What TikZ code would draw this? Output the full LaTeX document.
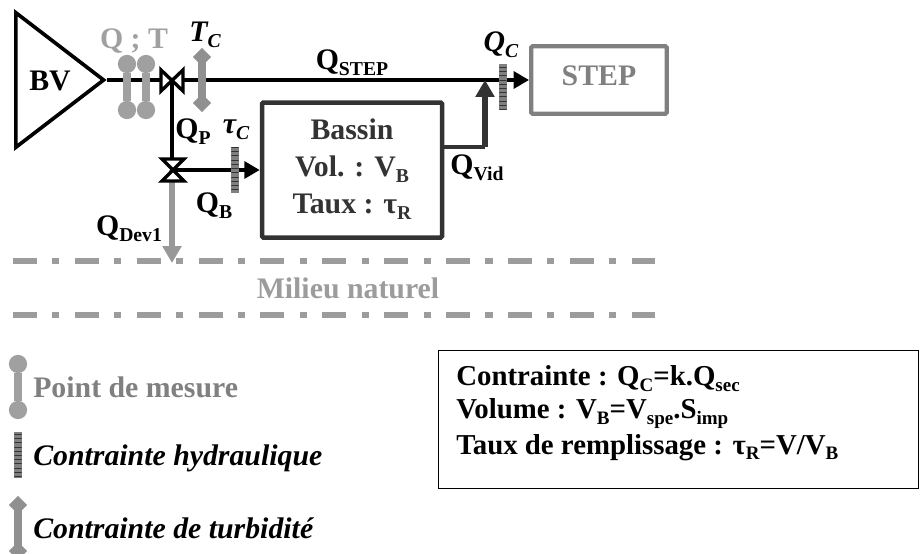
\documentclass[tikz,border=0pt]{standalone}
\usepackage{fontspec}
\setmainfont{Liberation Serif}
\usetikzlibrary{arrows.meta,patterns,shapes.geometric}
\newcommand{\sbs}[1]{\raisebox{-.2em}{\scalebox{.66}{#1}}}
\definecolor{bassincol}{HTML}{333333}
\definecolor{stepcol}{HTML}{808080}
\definecolor{mesurecol}{HTML}{A0A0A0}
\definecolor{milieucol}{HTML}{9C9C9C}
\tikzset{
  lbl/.style={font=\fontsize{21.2}{21.2}\selectfont\bfseries,inner sep=0pt},
  lblit/.style={lbl,font=\fontsize{21.2}{21.2}\selectfont\bfseries\itshape},
  mainline/.style={line width=2.7pt,black},
  valve/.style={line width=2.4pt,fill=white,line join=miter},
  mesure/.style={line width=5pt,mesurecol},
  mesuredot/.style={fill=mesurecol,circle,inner sep=0pt,minimum size=13pt},
  turbi/.style={line width=5pt,mesurecol!90!black},
  turbidot/.style={fill=mesurecol!90!black,diamond,inner sep=0pt,minimum size=13pt},
  hydro/.style={preaction={fill=black!50},pattern=horizontal lines,pattern color=black!80,minimum width=5pt,minimum height=32.6pt,inner sep=0pt},
  milieu/.style={line width=4.2pt,milieucol,dash pattern=on 17pt off 11pt on 5pt off 11pt},
}
\begin{document}
\begin{tikzpicture}[x=0.025cm,y=-0.025cm]
  \useasboundingbox (0,0) rectangle (920,553);
  % bassin versant et ouvrages
  \node[draw,isosceles triangle,isosceles triangle apex angle=75,isosceles triangle stretches,
    minimum width=95.7pt,minimum height=62.4pt,inner sep=0pt,line width=2.6pt,anchor=lower side] (bv) at (14,80) {};
  \node[lbl] (bvt) at (50,81) {BV};
  \node[draw=stepcol,line width=3pt,rounded corners=1pt,inner sep=0pt,minimum width=96.5pt,minimum height=48pt] (step) at (599,80) {};
  \node[lbl,text=stepcol] (stept) at (599,76) {STEP};
  \node[draw=bassincol,line width=3.2pt,rounded corners=1pt,inner sep=0pt,minimum width=128pt,minimum height=96pt] (bassin) at (352,170) {};
  \node[lbl,text=bassincol,align=center] (bassint) at (352,169) {Bassin\\[5pt]Vol. : V\sbs{B}\\[5pt]Taux : τ\sbs{R}};
  \coordinate (v1) at (172,80);
  \coordinate (v2) at (172,170);
  \coordinate (j1) at (485,80);
  \coordinate (j0) at (485,147);
  \coordinate (b0) at (bassin.east |- j0);
  \coordinate (d1) at (172,263);
  % mesures et contraintes
  \draw[mainline] (bv.apex) -- (v1);
  \draw[mainline,-{Triangle[length=11pt,width=12pt]}] (v1) -- (step.west);
  \node[mesuredot] (m1a) at (127,64) {};
  \node[mesuredot] (m1b) at (127,110) {};
  \node[mesuredot] (m2a) at (146,64) {};
  \node[mesuredot] (m2b) at (146,110) {};
  \draw[mesure] (m1a) -- (m1b);
  \draw[mesure] (m2a) -- (m2b);
  \node[turbidot] (t1a) at (202,57) {};
  \node[turbidot] (t1b) at (202,103) {};
  \draw[turbi] (t1a.center) -- (t1b.center);
  \draw[valve] (161,70) -- (183,91) -- (183,70) -- (161,91) -- cycle;
  \draw[line width=2.4pt] (v1) -- (v2);
  \draw[mesurecol!95!black,line width=4.4pt,-{Triangle[length=12pt,width=13pt]}] (v2) -- (d1);
  \draw[valve] (162,159) -- (184,181) -- (162,181) -- (184,159) -- cycle;
  \draw[mainline,-{Triangle[length=11pt,width=12pt]}] (v2) -- (bassin.west |- v2);
  \draw[bassincol,line width=2.4pt] (b0) -- (j0);
  \draw[bassincol,line width=3.6pt,-{Triangle[length=12pt,width=13pt]}] (j0) -- (j1);
  \node[hydro] (tauc) at (235,170) {};
  \node[hydro] (qc) at (503,87) {};
  \draw[milieu] (13,261) -- (655,261);
  \draw[milieu] (13,315) -- (655,315);
  % textes du schema
  \node[lbl,text=mesurecol] (qt) at (134,41) {Q ; T};
  \node[lblit] (tc) at (205,35) {T\sbs{C}};
  \node[lblit] (qct) at (501,45) {Q\sbs{C}};
  \node[lblit] (tauct) at (236,130) {τ\sbs{C}};
  \node[lbl] (qstep) at (352,63) {Q\sbs{STEP}};
  \node[lbl] (qp) at (193,132) {Q\sbs{P}};
  \node[lbl] (qb) at (214,206) {Q\sbs{B}};
  \node[lbl] (qvid) at (477,168) {Q\sbs{Vid}};
  \node[lbl] (qdev) at (129,229) {Q\sbs{Dev1}};
  \node[lbl,text=milieucol] (mil) at (348,288) {Milieu naturel};
  % legende
  \node[mesuredot] (l1a) at (18,364) {};
  \node[mesuredot] (l1b) at (18,410) {};
  \draw[mesure] (l1a) -- (l1b);
  \node[lbl,text=stepcol,anchor=west] (l1) at (33,387) {Point de mesure};
  \node[hydro] (l2a) at (18,455) {};
  \node[lblit,anchor=west] (l2) at (33,458) {Contrainte hydraulique};
  \node[turbidot] (l3a) at (18,505) {};
  \node[turbidot] (l3b) at (18,551) {};
  \draw[turbi] (l3a.center) -- (l3b.center);
  \node[lblit,anchor=west] (l3) at (33,528) {Contrainte de turbidité};
  % encadre
  \node[draw,line width=1pt,minimum width=341pt,minimum height=98pt,anchor=north west] (box) at (438,350) {};
  \node[lbl,font=\fontsize{20.5}{20.5}\selectfont\bfseries,anchor=west,align=left] (boxt) at (456,413) {Contrainte : Q\sbs{C}=k.Q\sbs{sec}\\[3pt]Volume : V\sbs{B}=V\sbs{spe}.S\sbs{imp}\\[3pt]Taux de remplissage : τ\sbs{R}=V/V\sbs{B}};
\end{tikzpicture}
\end{document}
